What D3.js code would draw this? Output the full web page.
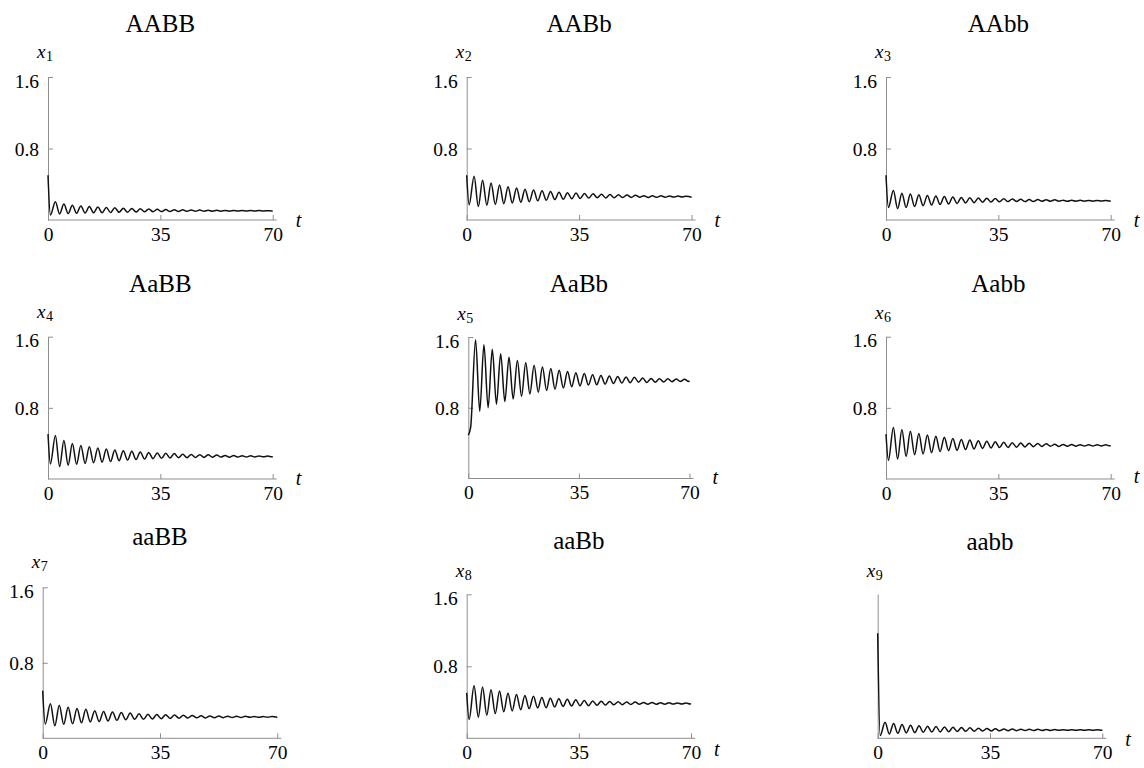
<!DOCTYPE html>
<html><head><meta charset="utf-8">
<script src="https://cdn.jsdelivr.net/npm/d3@7"></script>
<style>html,body{margin:0;padding:0;background:#fff;} svg text{font-family:'Liberation Serif','Times New Roman',Times,serif;}</style>
</head><body>
<script>
// ---------- DATA ----------
const genotypes = ["AABB","AABb","AAbb","AaBB","AaBb","Aabb","aaBB","aaBb","aabb"];
const varIndex = ["1","2","3","4","5","6","7","8","9"];
const xTickValues = [0, 35, 70];
const yTickValues = [0.8, 1.6];
// times of start, first dip, then successive peaks / troughs, end
const times = [0, 0.75, 2.3, 3.62, 4.95, 6.27, 7.59, 8.91, 10.24, 11.56, 12.88, 14.2, 15.53, 16.85, 18.17, 19.49, 20.82, 22.14, 23.46, 24.78, 26.11, 27.43, 28.75, 30.07, 31.4, 32.72, 34.04, 35.36, 36.69, 38.01, 39.33, 40.65, 41.98, 43.3, 44.62, 45.94, 47.27, 48.59, 49.91, 51.23, 52.56, 53.88, 55.2, 56.52, 57.85, 59.17, 60.49, 61.81, 63.14, 64.46, 65.78, 67.1, 68.43, 69.75, 70];
const x1Values = [0.50, 0.055, 0.204, 0.068, 0.178, 0.072, 0.165, 0.075, 0.158, 0.078, 0.152, 0.080, 0.146, 0.081, 0.141, 0.083, 0.138, 0.086, 0.131, 0.087, 0.128, 0.089, 0.126, 0.092, 0.123, 0.093, 0.119, 0.094, 0.117, 0.095, 0.115, 0.096, 0.114, 0.097, 0.113, 0.098, 0.112, 0.099, 0.109, 0.098, 0.108, 0.099, 0.107, 0.099, 0.107, 0.100, 0.106, 0.100, 0.105, 0.100, 0.105, 0.101, 0.104, 0.101, 0.102];
const x2Values = [0.50, 0.17, 0.49, 0.152, 0.444, 0.166, 0.415, 0.173, 0.392, 0.182, 0.373, 0.190, 0.358, 0.198, 0.344, 0.205, 0.335, 0.214, 0.326, 0.221, 0.319, 0.228, 0.311, 0.232, 0.306, 0.237, 0.301, 0.241, 0.297, 0.245, 0.294, 0.248, 0.287, 0.247, 0.284, 0.249, 0.282, 0.251, 0.280, 0.253, 0.278, 0.255, 0.272, 0.252, 0.271, 0.254, 0.270, 0.255, 0.269, 0.256, 0.268, 0.257, 0.267, 0.257, 0.262];
const x3Values = [0.50, 0.14, 0.33, 0.127, 0.30, 0.14, 0.29, 0.151, 0.282, 0.16, 0.274, 0.169, 0.268, 0.173, 0.262, 0.179, 0.257, 0.185, 0.253, 0.19, 0.249, 0.194, 0.246, 0.198, 0.243, 0.201, 0.240, 0.203, 0.238, 0.206, 0.236, 0.208, 0.231, 0.206, 0.229, 0.207, 0.228, 0.209, 0.227, 0.210, 0.226, 0.211, 0.222, 0.209, 0.221, 0.210, 0.220, 0.210, 0.219, 0.211, 0.219, 0.212, 0.218, 0.212, 0.215];
const x4Values = [0.505, 0.17, 0.49, 0.14, 0.432, 0.155, 0.40, 0.165, 0.378, 0.174, 0.362, 0.182, 0.348, 0.19, 0.336, 0.197, 0.327, 0.206, 0.318, 0.213, 0.311, 0.220, 0.303, 0.224, 0.298, 0.229, 0.293, 0.233, 0.289, 0.237, 0.286, 0.240, 0.279, 0.239, 0.276, 0.241, 0.274, 0.243, 0.272, 0.245, 0.270, 0.247, 0.264, 0.244, 0.263, 0.246, 0.262, 0.247, 0.261, 0.248, 0.260, 0.249, 0.259, 0.249, 0.254];
const x5Values = [0.49, 0.58, 1.57, 0.76, 1.512, 0.80, 1.461, 0.84, 1.411, 0.87, 1.37, 0.90, 1.335, 0.93, 1.308, 0.955, 1.28, 0.975, 1.26, 0.995, 1.243, 1.01, 1.223, 1.024, 1.209, 1.037, 1.197, 1.047, 1.188, 1.057, 1.174, 1.06, 1.166, 1.067, 1.16, 1.074, 1.154, 1.079, 1.149, 1.083, 1.145, 1.088, 1.135, 1.086, 1.132, 1.089, 1.129, 1.092, 1.127, 1.094, 1.125, 1.096, 1.123, 1.098, 1.105];
const x6Values = [0.505, 0.21, 0.58, 0.225, 0.557, 0.254, 0.536, 0.273, 0.511, 0.281, 0.495, 0.296, 0.482, 0.308, 0.470, 0.319, 0.454, 0.322, 0.445, 0.331, 0.438, 0.338, 0.431, 0.344, 0.425, 0.349, 0.420, 0.354, 0.412, 0.354, 0.408, 0.358, 0.405, 0.361, 0.402, 0.364, 0.399, 0.366, 0.397, 0.368, 0.391, 0.366, 0.389, 0.368, 0.388, 0.369, 0.386, 0.370, 0.385, 0.371, 0.384, 0.372, 0.384, 0.373, 0.376];
const x7Values = [0.504, 0.15, 0.365, 0.133, 0.349, 0.148, 0.329, 0.153, 0.317, 0.164, 0.307, 0.174, 0.293, 0.177, 0.285, 0.184, 0.278, 0.191, 0.273, 0.196, 0.267, 0.201, 0.259, 0.201, 0.255, 0.205, 0.252, 0.208, 0.249, 0.211, 0.246, 0.213, 0.244, 0.215, 0.242, 0.217, 0.238, 0.216, 0.237, 0.218, 0.236, 0.219, 0.234, 0.220, 0.234, 0.221, 0.233, 0.222, 0.232, 0.222, 0.231, 0.223, 0.231, 0.224, 0.226];
const x8Values = [0.505, 0.21, 0.583, 0.235, 0.570, 0.255, 0.540, 0.275, 0.525, 0.295, 0.50, 0.304, 0.488, 0.318, 0.476, 0.329, 0.466, 0.338, 0.453, 0.34, 0.446, 0.348, 0.439, 0.354, 0.433, 0.359, 0.428, 0.363, 0.419, 0.363, 0.415, 0.367, 0.412, 0.369, 0.409, 0.372, 0.406, 0.374, 0.404, 0.376, 0.403, 0.378, 0.398, 0.377, 0.397, 0.378, 0.395, 0.379, 0.394, 0.38, 0.393, 0.381, 0.393, 0.381, 0.387];
const x9Values = [1.164, 0.03, 0.177, 0.048, 0.164, 0.055, 0.152, 0.06, 0.145, 0.063, 0.139, 0.066, 0.134, 0.069, 0.13, 0.071, 0.126, 0.073, 0.122, 0.075, 0.119, 0.077, 0.116, 0.079, 0.112, 0.081, 0.109, 0.082, 0.106, 0.083, 0.104, 0.084, 0.102, 0.085, 0.101, 0.086, 0.1, 0.086, 0.099, 0.087, 0.098, 0.087, 0.097, 0.088, 0.096, 0.088, 0.095, 0.089, 0.095, 0.089, 0.094, 0.09, 0.094, 0.09, 0.092];
const seriesList = [x1Values, x2Values, x3Values, x4Values, x5Values, x6Values, x7Values, x8Values, x9Values];

// ---------- LAYOUT (pixel positions of each small panel) ----------
const layout = [
  {x0:48,    x70:272.7,  yTop:77,    y0:220,   titleY:32,    labDY:-19, tDY:6.5, showT:true,  yTicks:true},
  {x0:466.7, x70:691.5,  yTop:77,    y0:220,   titleY:32,    labDY:-19, tDY:6.5, showT:true,  yTicks:true},
  {x0:886,   x70:1110.7, yTop:77,    y0:220,   titleY:32,    labDY:-19, tDY:6.5, showT:true,  yTicks:true},
  {x0:48,    x70:272.7,  yTop:336.7, y0:479,   titleY:291.5, labDY:-19, tDY:5.5, showT:true,  yTicks:true},
  {x0:468.3, x70:689.5,  yTop:337,   y0:478.5, titleY:291.5, labDY:-17, tDY:5.5, showT:true,  yTicks:true},
  {x0:886,   x70:1110.7, yTop:336.7, y0:479,   titleY:291.5, labDY:-18, tDY:4,   showT:true,  yTicks:true},
  {x0:42.7,  x70:277.3,  yTop:587.3, y0:738.3, titleY:545,   labDY:-19, tDY:6,   showT:false, yTicks:true},
  {x0:466.7, x70:691,    yTop:594.3, y0:738.3, titleY:549,   labDY:-17, tDY:18,  showT:true,  yTicks:true},
  {x0:877.7, x70:1102.3, yTop:594,   y0:738.3, titleY:550,   labDY:-17, tDY:8,   showT:true,  yTicks:false}
];

const SERIF = "'Liberation Serif','Times New Roman',Times,serif";
const AXIS_COLOR = "#8e8e8e";

const svg = d3.select("body").append("svg")
  .attr("width", 1144).attr("height", 768)
  .style("background", "#fff");

seriesList.forEach((vals, i) => {
  const L = layout[i];
  const xs = d3.scaleLinear().domain([0, 70]).range([L.x0, L.x70]);
  const ys = d3.scaleLinear().domain([0, 1.6]).range([L.y0, L.yTop]);
  const g = svg.append("g");

  // y axis
  const yAxis = d3.axisLeft(ys)
    .tickValues(L.yTicks ? yTickValues : [])
    .tickSizeInner(-5).tickSizeOuter(0).tickPadding(9)
    .tickFormat(d3.format(".1f"));
  const yg = g.append("g").attr("transform", `translate(${L.x0},0)`).call(yAxis)
    .attr("color", AXIS_COLOR);
  yg.selectAll("path,line").attr("stroke-width", 1);
  yg.selectAll("text").attr("fill", "#000")
    .style("font-family", SERIF).style("font-size", "19.5px")
    .attr("dy", d => d === 1.6 ? "0.52em" : "0.34em");

  // x axis
  const xAxis = d3.axisBottom(xs)
    .tickValues(xTickValues)
    .tickSizeInner(-5).tickSizeOuter(0).tickPadding(7);
  const xg = g.append("g").attr("transform", `translate(0,${L.y0})`).call(xAxis)
    .attr("color", AXIS_COLOR);
  xg.select(".domain").remove();
  xg.selectAll("line").attr("stroke-width", 1);
  xg.selectAll("text").attr("fill", "#000")
    .style("font-family", SERIF).style("font-size", "19.5px");
  g.append("line")
    .attr("x1", L.x0).attr("x2", L.x70 + 4)
    .attr("y1", L.y0).attr("y2", L.y0)
    .attr("stroke", AXIS_COLOR).attr("stroke-width", 1);

  // curve
  const pts = times.map((t, j) => [t, vals[j]]).filter(d => d[1] !== undefined);
  const line = d3.line().x(d => xs(d[0])).y(d => ys(d[1])).curve(d3.curveMonotoneX);
  g.append("path").datum(pts)
    .attr("d", line)
    .attr("fill", "none").attr("stroke", "#111").attr("stroke-width", 1.5)
    .attr("stroke-linejoin", "round");

  // title
  g.append("text")
    .attr("x", xs(35)).attr("y", L.titleY)
    .attr("text-anchor", "middle")
    .style("font-family", SERIF).style("font-size", "25px").attr("fill", "#000")
    .text(genotypes[i]);

  // variable label x_i
  const lab = g.append("text")
    .attr("x", L.x0 - 11).attr("y", L.yTop + L.labDY)
    .style("font-family", SERIF).style("font-size", "19px").attr("fill", "#000");
  lab.append("tspan").style("font-style", "italic").text("x");
  lab.append("tspan").style("font-size", "14px").attr("dy", 3).attr("dx", 0.5).text(varIndex[i]);

  // t label
  if (L.showT) {
    g.append("text")
      .attr("x", L.x70 + 23).attr("y", L.y0 + L.tDY)
      .style("font-family", SERIF).style("font-size", "20px").style("font-style", "italic")
      .attr("fill", "#000")
      .text("t");
  }
});
</script>
</body></html>
